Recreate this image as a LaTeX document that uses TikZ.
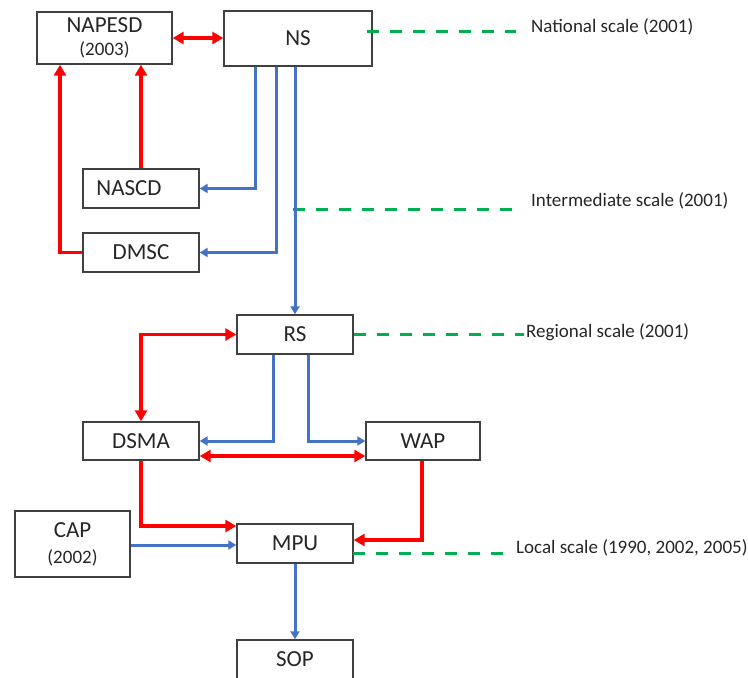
\documentclass[tikz,border=0pt]{standalone}
\usepackage{fontspec}
\setmainfont{Carlito}
\usetikzlibrary{arrows.meta}
\definecolor{linkred}{RGB}{255,0,0}
\definecolor{linkblue}{RGB}{68,114,196}
\definecolor{scalegreen}{RGB}{0,176,80}
\definecolor{inkgray}{RGB}{38,38,38}
\tikzset{
  box/.style={draw=black!75, line width=1.4pt, text=inkgray, inner sep=0pt,
    font=\fontsize{23}{27}\selectfont, align=center},
  redlink/.style={draw=linkred, line width=3.6pt,
    -{Triangle[length=11pt,width=12pt]}},
  redboth/.style={draw=linkred, line width=3.6pt,
    {Triangle[length=11pt,width=12pt]}-{Triangle[length=11pt,width=12pt]}},
  bluelink/.style={draw=linkblue, line width=3pt,
    -{Triangle[length=8pt,width=9pt]}},
  scaleline/.style={draw=scalegreen, line width=3pt, dash pattern=on 12pt off 11pt},
  scalelabel/.style={anchor=west, text=inkgray, inner sep=0pt,
    font=\fontsize{19}{21}\selectfont}
}
\begin{document}
\begin{tikzpicture}[x=1pt,y=-1pt]
\useasboundingbox (0,0) rectangle (748,678);
\clip (0,0) rectangle (748,678);

% boxes
\node[box, minimum width=135, minimum height=52] (napesd) at (104.5,38)
  {NAPESD\\[-4pt]{\fontsize{19}{21}\selectfont (2003)}};
\node[box, minimum width=148, minimum height=55] (ns) at (298,38.5) {NS};
\node[box, minimum width=116, minimum height=39] (nascd) at (141,188.5)
  {\hspace*{-24pt}NASCD};
\node[box, minimum width=116, minimum height=39] (dmsc) at (141,252.5) {DMSC};
\node[box, minimum width=116, minimum height=39] (rs) at (295,334.5) {RS};
\node[box, minimum width=116, minimum height=38] (dsma) at (141,441) {DSMA};
\node[box, minimum width=114, minimum height=38] (wap) at (423,441) {WAP};
\node[box, minimum width=115, minimum height=66] (cap) at (72.5,544)
  {CAP\\[-1pt]{\fontsize{19}{21}\selectfont (2002)}};
\node[box, minimum width=116, minimum height=39] (mpu) at (295,543.5) {MPU};
\node[box, minimum width=116, minimum height=39] (sop) at (295,659.5) {SOP};

% scale labels
\node[scalelabel] (natl) at (531,27) {National scale (2001)};
\node[scalelabel] (inter) at (531,201) {Intermediate scale (2001)};
\node[scalelabel] (regl) at (526,332) {Regional scale (2001)};
\node[scalelabel] (locl) at (516,548) {Local scale (1990, 2002, 2005)};

% dashed scale markers
\coordinate (natlA) at (367,31);  \coordinate (natlB) at (516,31);
\coordinate (interA) at (293,209); \coordinate (interB) at (512,209);
\coordinate (reglB) at (524,334.5);
\coordinate (loclA) at (353,553); \coordinate (loclB) at (503,553);
\draw[scaleline] (natlA) -- (natlB);
\draw[scaleline] (interA) -- (interB);
\draw[scaleline] (rs.east) -- (reglB);
\draw[scaleline] (loclA) -- (loclB);

% national level links
\draw[redboth] (napesd.east) -- (napesd.east -| ns.west);
\draw[redlink] (nascd.north) -- (nascd.north |- napesd.south);
\draw[redlink] (dmsc.west) -- (60,0 |- dmsc.west) -- (60,0 |- napesd.south);
\draw[bluelink] (255,0 |- ns.south) -- (255,0 |- nascd.east) -- (nascd.east);
\draw[bluelink] (276,0 |- ns.south) -- (276,0 |- dmsc.east) -- (dmsc.east);
\draw[bluelink] (rs.north |- ns.south) -- (rs.north);

% regional level links
\draw[redboth] (rs.west) -- (141,0 |- rs.west) -- (dsma.north);
\draw[bluelink] (273,0 |- rs.south) -- (273,0 |- dsma.east) -- (dsma.east);
\draw[bluelink] (308,0 |- rs.south) -- (308,0 |- wap.west) -- (wap.west);
\draw[redboth] (dsma.east |- 0,456) -- (wap.west |- 0,456);

% local level links
\draw[redlink] (dsma.south) -- (141,526) -- (mpu.west |- 0,526);
\draw[redlink] (422,0 |- wap.south) -- (422,540) -- (mpu.east |- 0,540);
\draw[bluelink] (cap.east |- 0,545) -- (mpu.west |- 0,545);
\draw[bluelink] (mpu.south) -- (sop.north);
\end{tikzpicture}
\end{document}
